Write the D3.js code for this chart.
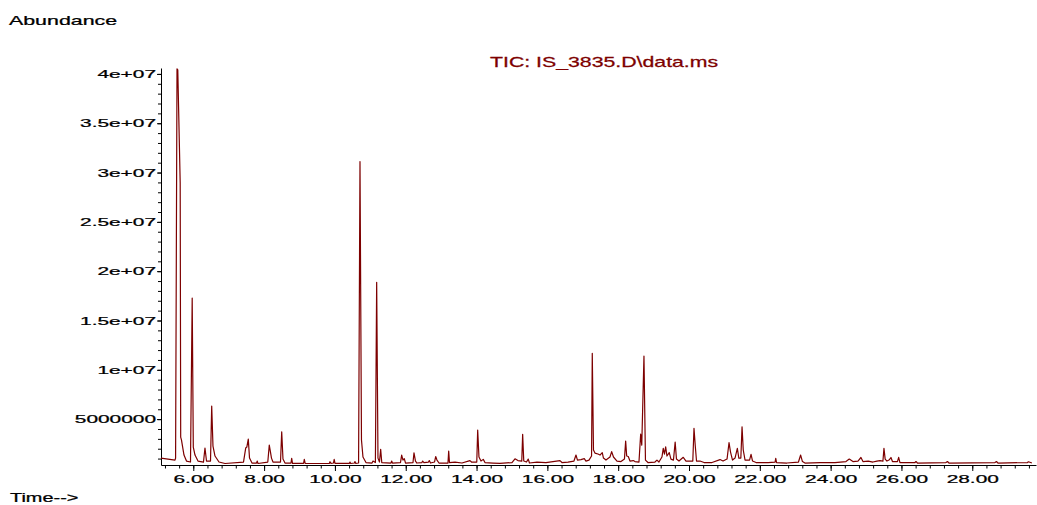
<!DOCTYPE html>
<html>
<head>
<meta charset="utf-8">
<script src="https://cdn.jsdelivr.net/npm/d3@7"></script>
<style>
  body { margin: 0; background: #fff; }
  svg text { font-family: "Liberation Sans", Arial, sans-serif; }
</style>
</head>
<body>
<div id="vis"></div>
<script>

// retention time (min) and TIC abundance (millions)
var rtMin = [
  5.088, 5.483, 5.500, 5.540, 5.562, 5.630, 5.644, 5.667, 5.695, 5.737,
  5.808, 5.921, 5.969, 6.000, 6.048, 6.133, 6.288, 6.330, 6.373, 6.486,
  6.520, 6.556, 6.613, 6.726, 6.895, 7.418, 7.480, 7.512, 7.553, 7.588,
  7.658, 7.785, 7.807, 7.827, 8.104, 8.146, 8.180, 8.208, 8.251, 8.463,
  8.497, 8.533, 8.590, 8.759, 8.779, 8.802, 9.115, 9.135, 9.160, 9.841,
  9.861, 9.889, 9.959, 9.979, 10.002, 10.411, 10.425, 10.445, 10.552, 10.566,
  10.586, 10.668, 10.708, 10.750, 10.792, 10.877, 11.047, 11.075, 11.143, 11.179,
  11.216, 11.258, 11.292, 11.323, 11.583, 11.603, 11.625, 11.851, 11.885, 11.922,
  11.959, 11.993, 12.205, 12.233, 12.275, 12.317, 12.458, 12.478, 12.515, 12.642,
  12.665, 12.699, 12.812, 12.846, 12.882, 12.939, 13.193, 13.213, 13.235, 13.391,
  13.588, 13.814, 13.857, 14.006, 14.032, 14.068, 14.125, 14.190, 14.238, 14.464,
  14.661, 15.000, 15.085, 15.169, 15.277, 15.302, 15.333, 15.410, 15.460, 15.494,
  15.706, 15.960, 16.158, 16.356, 16.412, 16.582, 16.751, 16.808, 16.850, 16.949,
  17.042, 17.090, 17.175, 17.248, 17.268, 17.302, 17.344, 17.429, 17.486, 17.550,
  17.584, 17.655, 17.768, 17.816, 17.867, 17.966, 18.079, 18.177, 18.211, 18.240,
  18.285, 18.333, 18.426, 18.474, 18.587, 18.635, 18.666, 18.728, 18.770, 18.841,
  19.038, 19.095, 19.151, 19.236, 19.273, 19.307, 19.341, 19.377, 19.442, 19.490,
  19.561, 19.609, 19.646, 19.717, 19.838, 19.915, 20.107, 20.141, 20.175, 20.212,
  20.311, 20.424, 20.650, 20.876, 20.961, 21.074, 21.130, 21.173, 21.229, 21.300,
  21.365, 21.407, 21.464, 21.498, 21.532, 21.583, 21.710, 21.752, 21.795, 21.894,
  22.233, 22.431, 22.450, 22.473, 22.766, 23.091, 23.153, 23.204, 23.275, 23.698,
  24.122, 24.433, 24.526, 24.630, 24.772, 24.856, 24.913, 25.062, 25.195, 25.308,
  25.393, 25.477, 25.506, 25.540, 25.591, 25.647, 25.704, 25.746, 25.887, 25.921,
  25.958, 26.382, 26.410, 26.452, 27.257, 27.299, 27.342, 28.641, 28.683, 28.726,
  29.559, 29.587, 29.685
];

var abundanceM = [
  1.05, 0.85, 1.05, 40.51, 40.41, 28.95, 3.18, 2.88, 2.27, 1.36,
  0.75, 0.65, 17.28, 2.17, 1.36, 0.75, 0.65, 2.07, 0.75, 0.75,
  6.33, 2.27, 1.26, 0.65, 0.50, 0.65, 2.07, 2.17, 2.98, 1.05,
  0.55, 0.55, 0.75, 0.50, 0.65, 2.37, 1.66, 1.05, 0.65, 0.65,
  3.72, 0.95, 0.55, 0.55, 1.02, 0.52, 0.52, 0.92, 0.52, 0.50,
  0.68, 0.52, 0.55, 0.92, 0.52, 0.52, 0.65, 0.50, 0.55, 0.70,
  0.52, 0.55, 31.11, 2.88, 1.16, 0.60, 0.55, 0.75, 0.60, 18.87,
  1.05, 0.65, 1.94, 0.60, 0.55, 0.75, 0.55, 0.60, 1.36, 0.85,
  1.00, 0.55, 0.60, 1.59, 0.75, 0.55, 0.60, 0.75, 0.60, 0.65,
  0.80, 0.55, 0.65, 1.21, 0.85, 0.55, 0.55, 1.76, 0.60, 0.65,
  0.55, 0.80, 0.65, 0.65, 3.89, 1.16, 0.75, 0.92, 0.60, 0.55,
  0.52, 0.60, 0.98, 0.80, 0.75, 3.46, 0.75, 0.65, 0.95, 0.55,
  0.65, 0.60, 0.70, 0.80, 0.60, 0.65, 0.75, 1.36, 0.85, 0.90,
  1.00, 0.75, 0.85, 1.26, 11.67, 1.87, 1.56, 1.46, 1.36, 1.61,
  1.05, 0.85, 1.16, 1.71, 1.16, 0.75, 0.70, 0.95, 2.78, 1.26,
  1.21, 0.75, 0.80, 0.70, 0.65, 3.49, 2.37, 11.40, 0.85, 0.60,
  0.65, 0.85, 0.65, 1.16, 2.04, 1.46, 2.20, 1.26, 1.61, 0.95,
  0.85, 2.68, 0.95, 0.75, 1.13, 0.75, 0.75, 4.07, 2.37, 0.75,
  0.75, 0.60, 0.60, 0.90, 0.75, 0.95, 2.61, 1.66, 0.85, 1.05,
  2.04, 1.05, 1.05, 4.23, 1.87, 0.85, 0.85, 1.43, 0.75, 0.60,
  0.60, 0.65, 1.02, 0.60, 0.55, 0.65, 1.36, 0.70, 0.55, 0.60,
  0.60, 0.70, 0.95, 0.70, 0.75, 1.11, 0.70, 0.75, 0.65, 0.75,
  0.80, 0.75, 2.04, 0.95, 0.75, 0.85, 1.11, 0.70, 0.70, 1.13,
  0.60, 0.60, 0.70, 0.55, 0.60, 0.70, 0.55, 0.60, 0.70, 0.55,
  0.60, 0.68, 0.55
];

// axis ticks
var xTickValues = [6, 8, 10, 12, 14, 16, 18, 20, 22, 24, 26, 28];
var yTickValues = [5e6, 10e6, 15e6, 20e6, 25e6, 30e6, 35e6, 40e6];
var yTickLabels = ['5000000', '1e+07', '1.5e+07', '2e+07', '2.5e+07', '3e+07', '3.5e+07', '4e+07'];

var titleText = 'TIC: IS_3835.D\\data.ms';

//________________________________________________
// SETUP
//________________________________________________

var width = 1037, height = 505;
var lineColor = '#7d0000';
var stretch = 1.8;   // the exported picture is squashed, so all text is wide

var svg = d3.select('#vis').append('svg')
    .attr('width', width)
    .attr('height', height);

var x = d3.scaleLinear().domain([5.088, 29.8]).range([161, 1036]);
var y = d3.scaleLinear().domain([0.35e6, 40.6e6]).range([465, 68]);

// scale text horizontally around its own x anchor, a touch heavier like the export
function widen(sel, s) {
    sel.each(function () {
        var t = d3.select(this);
        var tx = +t.attr('x') || 0;
        t.attr('transform', 'translate(' + tx + ',0) scale(' + s + ',1) translate(' + (-tx) + ',0)')
            .attr('stroke', t.attr('fill') || '#000')
            .attr('stroke-width', 0.25);
    });
}

//________________________________________________
// AXES
//________________________________________________

var yMinor = d3.range(1, 41).map(function (i) { return i * 1e6; });
var xMinor = d3.range(13, 75).map(function (i) { return i * 0.4; });

svg.append('g')
    .attr('transform', 'translate(161,0)')
    .call(d3.axisLeft(y).tickValues(yMinor).tickSize(3).tickFormat(''))
    .call(function (g) { g.select('.domain').remove(); });

var yAxis = svg.append('g')
    .attr('transform', 'translate(161,0)')
    .call(d3.axisLeft(y)
        .tickValues(yTickValues)
        .tickSize(4)
        .tickSizeOuter(0)
        .tickPadding(1)
        .tickFormat(function (d, i) { return yTickLabels[i]; }));

svg.append('g')
    .attr('transform', 'translate(0,465)')
    .call(d3.axisBottom(x).tickValues(xMinor).tickSize(3.5).tickFormat(''))
    .call(function (g) { g.select('.domain').remove(); });

var xAxis = svg.append('g')
    .attr('transform', 'translate(0,465)')
    .call(d3.axisBottom(x)
        .tickValues(xTickValues)
        .tickSize(6)
        .tickSizeOuter(0)
        .tickPadding(4)
        .tickFormat(d3.format('.2f')));

[xAxis, yAxis].forEach(function (g) {
    g.attr('font-family', null).attr('font-size', null);
    g.selectAll('text')
        .attr('fill', '#000')
        .style('font-size', '11.6px')
        .call(widen, stretch);
});

//________________________________________________
// TRACE
//________________________________________________

var points = d3.zip(rtMin, abundanceM);

var line = d3.line()
    .x(function (d) { return x(d[0]); })
    .y(function (d) { return y(d[1] * 1e6); });

svg.append('path')
    .datum(points)
    .attr('d', line)
    .attr('fill', 'none')
    .attr('stroke', lineColor)
    .attr('stroke-width', 1.2)
    .attr('stroke-linejoin', 'round');

//________________________________________________
// LABELS
//________________________________________________

svg.append('text')
    .attr('x', 9)
    .attr('y', 25)
    .attr('fill', '#000')
    .style('font-size', '12.5px')
    .text('Abundance')
    .call(widen, 1.71);

svg.append('text')
    .attr('x', 10)
    .attr('y', 502)
    .attr('fill', '#000')
    .style('font-size', '12px')
    .text('Time-->')
    .call(widen, 1.66);

svg.append('text')
    .attr('x', 490)
    .attr('y', 67)
    .attr('fill', lineColor)
    .style('font-size', '14px')
    .text(titleText)
    .call(widen, 1.52);

</script>
</body>
</html>
